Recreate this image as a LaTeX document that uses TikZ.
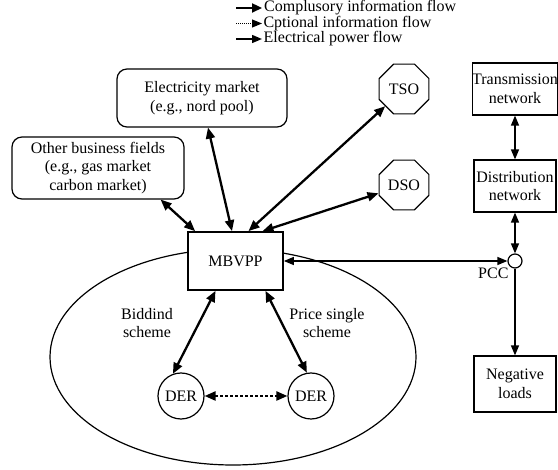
\documentclass[tikz,border=0pt]{standalone}
\usepackage{fontspec}
\setmainfont{Liberation Serif}
\usetikzlibrary{arrows.meta,shapes.geometric}

\begin{document}
\begin{tikzpicture}[x=1pt,y=-1pt,
    font=\rmfamily\fontsize{16}{18.5}\selectfont,
    box/.style={draw,line width=1.2pt,fill=white,align=center,inner sep=0pt},
    market/.style={box,rounded corners=10pt},
    octo/.style={draw,line width=1.1pt,fill=white,regular polygon,regular polygon sides=8,minimum size=54pt,inner sep=0pt},
    der/.style={draw,line width=1.2pt,fill=white,circle,minimum size=46pt,inner sep=0pt},
    info/.style={line width=2.3pt,{Triangle[length=11pt,width=9pt]}-{Triangle[length=11pt,width=9pt]}},
    power/.style={line width=1.4pt,{Triangle[length=10pt,width=8pt]}-{Triangle[length=10pt,width=8pt]}},
    powerto/.style={line width=1.4pt,-{Triangle[length=10pt,width=8pt]}}]
  \useasboundingbox (0,0) rectangle (558,470);
  \draw[line width=1.2pt] (233,357) ellipse [x radius=183,y radius=108];
  \node[box,line width=1.7pt,minimum width=95pt,minimum height=58pt] (mbvpp) at (235.5,261) {MBVPP};
  \node[market,minimum width=170pt,minimum height=58pt] (elec) at (202,98) {Electricity market\\(e.g., nord pool)};
  \node[market,minimum width=172pt,minimum height=62pt] (other) at (98,168) {Other business fields\\(e.g., gas market\\carbon market)};
  \node[octo] (tso) at (404,89) {TSO};
  \node[octo] (dso) at (404,185) {DSO};
  \node[box,minimum width=82pt,minimum height=52pt] (trans) at (515,89) {Transmission\\network};
  \node[box,minimum width=82pt,minimum height=52pt] (dist) at (515,186) {Distribution\\network};
  \node[box,minimum width=82pt,minimum height=56pt] (loads) at (515,384) {Negative\\loads};
  \node[draw,line width=1.2pt,fill=white,circle,minimum size=14pt,inner sep=0pt] (pcc) at (515,261) {};
  \node[anchor=north east,inner sep=1pt] (pcclabel) at (pcc.south west) {PCC};
  \node[der] (der1) at (181,396) {DER};
  \node[der] (der2) at (311,396) {DER};
  \node[align=center] (bid) at (147,323) {Biddind\\scheme};
  \node[align=center] (price) at (327,323) {Price single\\scheme};
  \draw[info] ([xshift=8pt]mbvpp.north west) -- ([xshift=-24pt]other.south east);
  \draw[info] ([xshift=-3.5pt]mbvpp.north) -- ([xshift=6pt]elec.south);
  \draw[info] ([xshift=13pt]mbvpp.north) -- (tso);
  \draw[info] ([xshift=27pt]mbvpp.north) -- (dso);
  \draw[info] ([xshift=-20pt]mbvpp.south) -- (der1.110);
  \draw[info] ([xshift=30pt]mbvpp.south) -- (der2.100);
  \draw[info,dash pattern=on 3pt off 2pt] (der1) -- (der2);
  \draw[power] (mbvpp) -- (pcc);
  \draw[power] (trans) -- (dist);
  \draw[power] (dist) -- (pcc);
  \draw[powerto] (pcc) -- (loads);
  \coordinate (leg1) at (236,8);
  \coordinate (leg2) at (236,23.5);
  \coordinate (leg3) at (236,39);
  \draw[line width=2.3pt,-{Triangle[length=10pt,width=9pt]}] (leg1) -- ++(26,0) node[right,inner sep=1pt] {Complusory information flow};
  \draw[line width=1pt,dash pattern=on 1pt off 1pt,-{Triangle[length=10pt,width=8pt]}] (leg2) -- ++(26,0) node[right,inner sep=1pt] {Cptional information flow};
  \draw[powerto] (leg3) -- ++(26,0) node[right,inner sep=1pt] {Electrical power flow};
\end{tikzpicture}
\end{document}
